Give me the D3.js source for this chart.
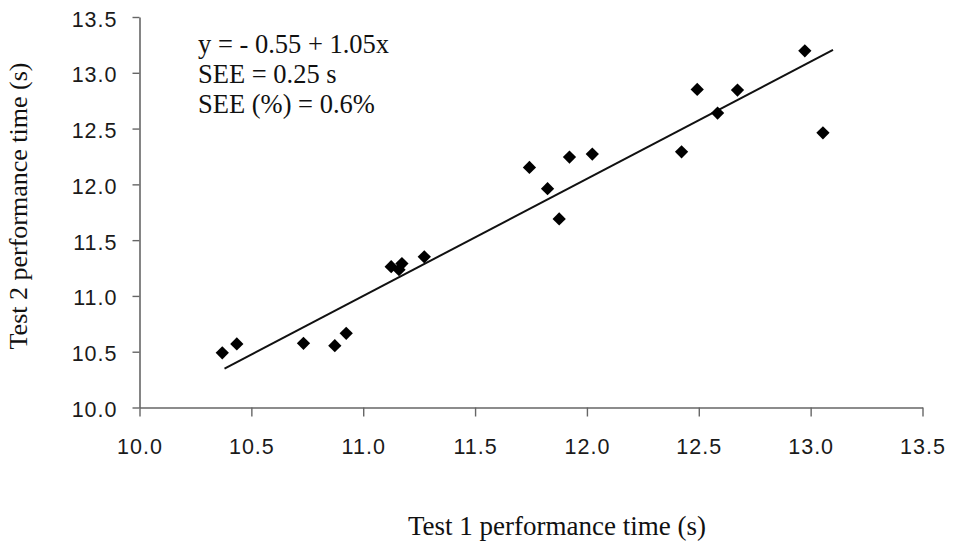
<!DOCTYPE html>
<html>
<head>
<meta charset="utf-8">
<script src="https://cdn.jsdelivr.net/npm/d3@7"></script>
<style>
  body { margin: 0; background: #fff; }
</style>
</head>
<body>
<div id="wrapper"></div>
<script>
// data
const test1 = [10.37, 10.435, 10.733, 10.873, 10.924, 11.125, 11.173, 11.16, 11.273,
               11.743, 11.824, 11.876, 11.922, 12.024, 12.423, 12.493, 12.584, 12.673, 12.974, 13.055]
const test2 = [10.49, 10.57, 10.575, 10.554, 10.665, 11.262, 11.29, 11.235, 11.351,
               12.152, 11.961, 11.69, 12.245, 12.272, 12.292, 12.851, 12.639, 12.845, 13.197, 12.462]

const xTicks = [10.0, 10.5, 11.0, 11.5, 12.0, 12.5, 13.0, 13.5]
const yTicks = [10.0, 10.5, 11.0, 11.5, 12.0, 12.5, 13.0, 13.5]

// regression line y = -0.55 + 1.05x, drawn over this x range
const intercept = -0.55
const slope = 1.05
const fitRange = [10.38, 13.10]

const notes = ["y = - 0.55 + 1.05x", "SEE = 0.25 s", "SEE (%) = 0.6%"]

const width = 956
const height = 543

const svg = d3.select("#wrapper")
    .append("svg")
    .attr("width", width)
    .attr("height", height)

const xScale = d3.scaleLinear()
    .domain([10, 13.5])
    .range([139.5, 922.5])

const yScale = d3.scaleLinear()
    .domain([10, 13.5])
    .range([407.5, 17])

// axes
const xAxis = svg.append("g")
    .attr("transform", `translate(0, ${yScale(10)})`)
    .call(d3.axisBottom(xScale)
        .tickValues(xTicks)
        .tickFormat(d3.format(".1f"))
        .tickSize(9)
        .tickSizeOuter(0)
        .tickPadding(22))

const yAxis = svg.append("g")
    .attr("transform", `translate(${xScale(10)}, 0)`)
    .call(d3.axisLeft(yScale)
        .tickValues(yTicks)
        .tickFormat(d3.format(".1f"))
        .tickSize(7)
        .tickSizeOuter(0)
        .tickPadding(15))

for (const ax of [xAxis, yAxis]) {
    ax.select(".domain").attr("stroke", "#666").attr("stroke-width", 1.6)
    ax.selectAll(".tick line").attr("stroke", "#666").attr("stroke-width", 1.4)
    ax.selectAll(".tick text")
        .attr("fill", "#1a1a1a")
        .style("font-family", "'Liberation Sans', Arial, sans-serif")
        .style("font-size", "21.5px")
        .style("letter-spacing", "1px")
}
yAxis.selectAll(".tick text").attr("dy", "0.42em")

// fit line
svg.append("line")
    .attr("x1", xScale(fitRange[0]))
    .attr("y1", yScale(intercept + slope * fitRange[0]))
    .attr("x2", xScale(fitRange[1]))
    .attr("y2", yScale(intercept + slope * fitRange[1]))
    .attr("stroke", "#111")
    .attr("stroke-width", 2)

// points (diamonds)
const diamond = d3.symbol().type(d3.symbolSquare).size(88)
svg.append("g")
    .selectAll("path")
    .data(test1.map((v, i) => [v, test2[i]]))
    .join("path")
    .attr("d", diamond)
    .attr("transform", d => `translate(${xScale(d[0])}, ${yScale(d[1])}) rotate(45)`)
    .attr("fill", "#000")

// annotation
svg.append("g")
    .selectAll("text")
    .data(notes)
    .join("text")
    .attr("x", 198)
    .attr("y", (d, i) => 53 + i * 30)
    .text(d => d)
    .style("font-family", "'Liberation Serif', 'Times New Roman', serif")
    .style("font-size", "26.5px")
    .attr("fill", "#111")

// axis titles
svg.append("text")
    .attr("x", 557)
    .attr("y", 535)
    .attr("text-anchor", "middle")
    .text("Test 1 performance time (s)")
    .style("font-family", "'Liberation Serif', 'Times New Roman', serif")
    .style("font-size", "27px")
    .attr("fill", "#111")

svg.append("text")
    .attr("transform", "translate(27, 206) rotate(-90)")
    .attr("text-anchor", "middle")
    .text("Test 2 performance time (s)")
    .style("font-family", "'Liberation Serif', 'Times New Roman', serif")
    .style("font-size", "26px")
    .attr("fill", "#111")
</script>
</body>
</html>
